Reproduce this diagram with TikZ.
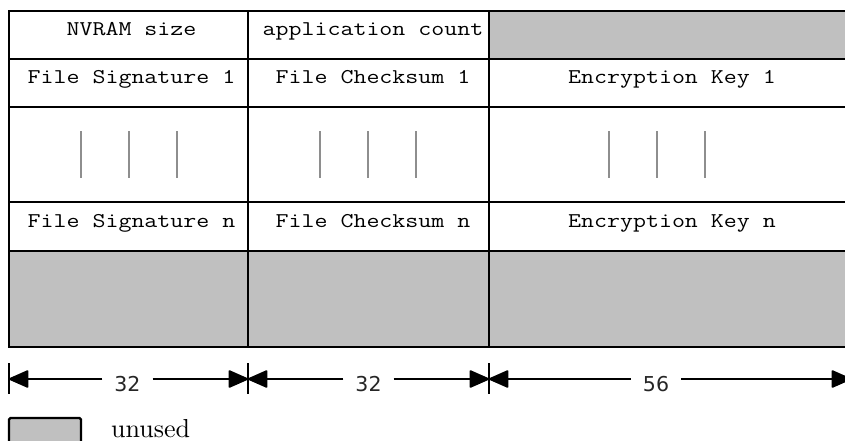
\documentclass[tikz,border=0pt]{standalone}
\usepackage{fontspec}
\usetikzlibrary{arrows.meta}
\newfontfamily\dimfont{DejaVu Sans}
\definecolor{unusedgray}{HTML}{C0C0C0}
\definecolor{barcolor}{HTML}{8E8E8E}
% typewriter field labels, widened to a Courier-like pitch
\newcommand\fieldtext[1]{\scalebox{1.2}[1]{\fontsize{21}{25}\selectfont\ttfamily #1}}
% legend text in the 10pt roman design, enlarged
\newcommand\legendtext[1]{\scalebox{2.6}{\fontsize{10}{12}\selectfont #1}}

\begin{document}
\begin{tikzpicture}[x=1pt,y=-1pt,
  gridline/.style={line width=2.8pt},
  field/.style={anchor=base, inner sep=0pt},
  dittobar/.style={line width=2.5pt, draw=barcolor},
  dimline/.style={line width=2pt, -{Triangle[length=21pt,width=18pt,round]}},
  dimtick/.style={line width=2pt},
  dimlabel/.style={anchor=base, inner xsep=12pt, inner ysep=0pt,
    font=\dimfont\fontsize{20.5}{24}\selectfont, text=black!85},
  legendbox/.style={line width=2.4pt, fill=unusedgray, rounded corners=1.5pt}]
\useasboundingbox (0,0) rectangle (845,441);

% unused areas
\fill[unusedgray] (489,11) rectangle (851,59);
\fill[unusedgray] (9,251) rectangle (851,347);

% table rules
\draw[gridline] (9,11) rectangle (848,347);
\foreach \y in {59,107,202,251}
  \draw[gridline] (9,\y) -- (851,\y);
\foreach \x in {248,489}
  \draw[gridline] (\x,11) -- (\x,347);

% field labels
\node[field] (nvram)  at (131.5,36) {\fieldtext{NVRAM size}};
\node[field] (count)  at (373,36)   {\fieldtext{application count}};
\node[field] (sig1)   at (131.5,84) {\fieldtext{File Signature 1}};
\node[field] (sum1)   at (373,84)   {\fieldtext{File Checksum 1}};
\node[field] (key1)   at (672,84)   {\fieldtext{Encryption Key 1}};
\node[field] (sign)   at (131.5,227){\fieldtext{File Signature n}};
\node[field] (sumn)   at (373,227)  {\fieldtext{File Checksum n}};
\node[field] (keyn)   at (672,227)  {\fieldtext{Encryption Key n}};

% ditto marks for the repeated entries
\foreach \x in {81,129,177,320,368,416,609,657,705}
  \draw[dittobar] (\x,131) -- (\x,178);

% width dimensions
\coordinate (d0) at (9,379);
\coordinate (d1) at (248,379);
\coordinate (d2) at (489,379);
\coordinate (d3) at (851,379);
\foreach \c in {d0,d1,d2,d3}
  \draw[dimtick] (\c) ++(0,-16) -- ++(0,31);
\node[dimlabel] (w1) at (127.5,391) {32};
\node[dimlabel] (w2) at (368.5,391) {32};
\node[dimlabel] (w3) at (656,391) {56};
\draw[dimline] (w1.west |- d0) -- (d0);
\draw[dimline] (w1.east |- d0) -- (d1);
\draw[dimline] (w2.west |- d0) -- (d1);
\draw[dimline] (w2.east |- d0) -- (d2);
\draw[dimline] (w3.west |- d0) -- (d2);
\draw[dimline] (w3.east |- d0) -- (d3);

% legend
\draw[legendbox] (9,418) rectangle (81,452);
\node[anchor=base west, inner sep=0pt] (unusedlbl) at (111,437) {\legendtext{unused}};
\end{tikzpicture}
\end{document}
